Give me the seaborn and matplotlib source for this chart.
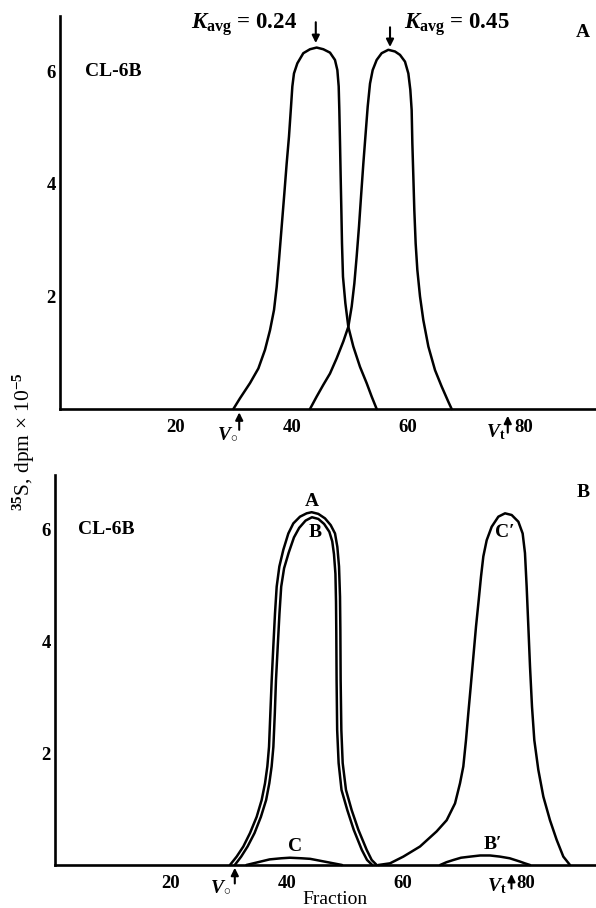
import matplotlib
matplotlib.use("Agg")
import matplotlib.pyplot as plt
from matplotlib.transforms import ScaledTranslation
import seaborn as sns
import pandas as pd

# ---------------- data ----------------
# Panel A: two peaks on CL-6B
peakA1_x = [29.89, 31.03, 32.76, 34.20, 35.34, 36.21, 36.90, 37.36, 37.76, 38.22, 38.68, 39.08, 39.48, 39.83,
            40.06, 40.34, 40.92, 41.95, 43.10, 44.25, 45.40, 46.55, 47.41, 47.82, 48.05, 48.16, 48.28, 48.39,
            48.51, 48.62, 48.79, 49.20, 49.71, 50.57, 51.72, 52.87, 53.74, 54.60]
peakA1_y = [0.0, 0.19, 0.46, 0.72, 1.05, 1.40, 1.76, 2.17, 2.65, 3.24, 3.83, 4.36, 4.84, 5.37,
            5.73, 5.96, 6.14, 6.32, 6.39, 6.42, 6.39, 6.33, 6.20, 6.02, 5.73, 5.31, 4.72, 4.13,
            3.53, 2.94, 2.35, 1.88, 1.46, 1.11, 0.75, 0.46, 0.22, 0.0]
peakA2_x = [43.10, 44.25, 45.40, 46.55, 47.70, 48.85, 49.71, 50.29, 50.75, 51.15, 51.55, 51.90, 52.30, 52.70,
            53.05, 53.45, 53.91, 54.60, 55.46, 56.61, 57.76, 58.62, 59.48, 60.06, 60.40, 60.63, 60.75, 60.92,
            61.09, 61.32, 61.61, 62.07, 62.64, 63.51, 64.66, 65.80, 66.95, 67.53]
peakA2_y = [0.0, 0.22, 0.43, 0.63, 0.90, 1.20, 1.46, 1.82, 2.23, 2.71, 3.24, 3.77, 4.36, 4.90,
            5.37, 5.78, 6.02, 6.20, 6.32, 6.38, 6.35, 6.29, 6.17, 5.96, 5.67, 5.31, 4.72, 4.13,
            3.53, 2.94, 2.47, 2.00, 1.58, 1.11, 0.69, 0.40, 0.13, 0.0]

# Panel B
curveA_x = [30.17, 31.32, 32.47, 33.62, 34.77, 35.63, 36.21, 36.61, 36.90, 37.13, 37.36, 37.64, 37.93, 38.22,
            38.68, 39.37, 40.23, 41.09, 42.24, 43.39, 44.25, 45.40, 46.55, 47.53, 48.28, 48.68, 48.97, 49.14,
            49.20, 49.25, 49.37, 49.60, 50.17, 51.15, 52.30, 53.74, 54.60, 55.46]
curveA_y = [0.0, 0.15, 0.33, 0.57, 0.86, 1.16, 1.46, 1.76, 2.11, 2.71, 3.30, 3.90, 4.49, 4.97,
            5.33, 5.63, 5.92, 6.10, 6.22, 6.28, 6.30, 6.27, 6.19, 6.07, 5.92, 5.68, 5.33, 4.79,
            4.20, 3.30, 2.41, 1.82, 1.34, 0.98, 0.63, 0.27, 0.09, 0.0]
curveB_x = [31.0, 32.1, 33.2, 34.4, 35.5, 36.4, 36.95, 37.35, 37.65, 37.9, 38.1, 38.4, 38.7, 39.0,
            39.5, 40.3, 41.2, 42.1, 43.2, 44.3, 45.4, 46.4, 47.3, 47.8, 48.1, 48.35, 48.45, 48.5,
            48.55, 48.65, 48.9, 49.4, 50.4, 51.5, 52.9, 53.8, 54.7]
curveB_y = [0.0, 0.15, 0.33, 0.57, 0.86, 1.16, 1.46, 1.76, 2.11, 2.71, 3.30, 3.90, 4.49, 4.97,
            5.30, 5.58, 5.85, 6.02, 6.15, 6.21, 6.18, 6.09, 5.95, 5.78, 5.55, 5.20, 4.70, 4.15,
            3.30, 2.41, 1.82, 1.34, 0.98, 0.63, 0.27, 0.09, 0.0]
curveC_x = [33.0, 35.0, 37.0, 39.0, 40.5, 42.5, 44.0, 46.0, 47.5, 49.5]
curveC_y = [0.0, 0.05, 0.10, 0.12, 0.13, 0.12, 0.11, 0.07, 0.04, 0.0]
curveCp_x = [55.75, 57.76, 60.06, 62.93, 65.80, 67.53, 68.97, 69.83, 70.40, 70.86, 71.26, 71.67, 72.13, 72.59,
             73.05, 73.45, 73.85, 74.43, 75.29, 76.44, 77.59, 78.74, 79.89, 80.63, 81.03, 81.32, 81.61, 81.90,
             82.24, 82.64, 83.33, 84.20, 85.34, 86.49, 87.64, 88.79]
curveCp_y = [0.0, 0.03, 0.15, 0.33, 0.60, 0.80, 1.10, 1.46, 1.76, 2.23, 2.71, 3.18, 3.72, 4.26,
             4.73, 5.15, 5.51, 5.80, 6.04, 6.22, 6.28, 6.25, 6.13, 5.92, 5.57, 4.97, 4.26, 3.54,
             2.83, 2.23, 1.70, 1.22, 0.80, 0.45, 0.15, 0.0]
curveBp_x = [66.4, 67.5, 68.7, 70.0, 71.6, 73.3, 75.0, 76.7, 78.4, 79.3, 80.2, 81.0, 81.9]
curveBp_y = [0.0, 0.05, 0.09, 0.13, 0.15, 0.17, 0.17, 0.15, 0.12, 0.09, 0.06, 0.03, 0.0]

x_ticks = [10, 20, 30, 40, 50, 60, 70, 80, 90]
x_ticklabels = ["", "20", "", "40", "", "60", "", "80", ""]
y_ticks = [1, 2, 3, 4, 5, 6]
y_ticklabels = ["", "2", "", "4", "", "6"]

# ---------------- style ----------------
sns.set_theme(style="white")
plt.rcParams["font.family"] = ["Liberation Serif", "DejaVu Serif"]
plt.rcParams["mathtext.fontset"] = "custom"
plt.rcParams["mathtext.rm"] = "Liberation Serif:bold"
plt.rcParams["mathtext.bf"] = "Liberation Serif:bold"
plt.rcParams["mathtext.it"] = "Liberation Serif:italic:bold"

W, H = 596, 908
fig = plt.figure(figsize=(W / 100, H / 100), dpi=100)
fig.patch.set_facecolor("white")
axA = fig.add_axes([60 / W, 1 - 409 / H, 536 / W, 393 / H])
axB = fig.add_axes([55 / W, 1 - 865 / H, 541 / W, 390 / H])

line_kw = dict(color="black", linewidth=1.8, estimator=None, legend=False)


def draw(ax, xs, ys):
    df = pd.DataFrame({"Fraction": xs, "val": ys})
    sns.lineplot(data=df, x="Fraction", y="val", ax=ax, sort=False, **line_kw)


draw(axA, peakA1_x, peakA1_y)
draw(axA, peakA2_x, peakA2_y)
for xs, ys in [(curveA_x, curveA_y), (curveB_x, curveB_y), (curveC_x, curveC_y),
               (curveCp_x, curveCp_y), (curveBp_x, curveBp_y)]:
    draw(axB, xs, ys)

for ax, xmax, ymax in [(axA, 536 / 5.8, 393 / 56.3), (axB, 541 / 5.8, 390 / 56.0)]:
    for ln in ax.get_lines():
        ln.set_clip_on(False)
        ln.set_solid_joinstyle("round")
        ln.set_solid_capstyle("round")
    ax.set_xlim(0, xmax)
    ax.set_ylim(0, ymax)
    ax.set_facecolor("white")
    for s in ["top", "right"]:
        ax.spines[s].set_visible(False)
    for s in ["left", "bottom"]:
        ax.spines[s].set_color("black")
        ax.spines[s].set_linewidth(1.9)
    ax.set_xticks(x_ticks)
    ax.set_xticklabels(x_ticklabels)
    ax.set_yticks(y_ticks)
    ax.set_yticklabels(y_ticklabels)
    ax.tick_params(axis="x", direction="in", length=8, width=1.5, color="black", pad=7,
                   labelsize=13.5, labelcolor="black")
    ax.tick_params(axis="y", direction="in", length=10, width=1.5, color="black", pad=3,
                   labelsize=13.5, labelcolor="black")
    for lab in ax.get_xticklabels() + ax.get_yticklabels():
        lab.set_fontweight("bold")
    ax.set_xlabel("")
    ax.set_ylabel("")

# in panel B the "80" label sits a little right of its tick
for lab in axB.get_xticklabels():
    if lab.get_text() == "80":
        lab.set_transform(lab.get_transform() + ScaledTranslation(7 / 100, 0, fig.dpi_scale_trans))

txt = dict(color="black", fontsize=14, fontweight="bold", clip_on=False)
arrow = dict(arrowstyle="-|>", color="black", lw=1.5, mutation_scale=11, shrinkA=0, shrinkB=0)

# Panel A annotations
axA.text(4.3, 6.0, "CL-6B", ha="left", va="center", **txt)
axA.text(90.2, 6.68, "A", ha="center", va="center", **txt)
kav = dict(txt, fontsize=16.5)
axA.text(22.6, 6.82, r"$K_{\mathrm{avg}}$ = 0.24", ha="left", va="center", **kav)
axA.text(59.3, 6.82, r"$K_{\mathrm{avg}}$ = 0.45", ha="left", va="center", **kav)
axA.annotate("", xy=(44.1, 6.5), xytext=(44.1, 6.87), arrowprops=arrow, annotation_clip=False)
axA.annotate("", xy=(56.9, 6.43), xytext=(56.9, 6.78), arrowprops=arrow, annotation_clip=False)
axA.annotate("", xy=(30.9, -0.06), xytext=(30.9, -0.37), arrowprops=arrow, annotation_clip=False)
axA.annotate("", xy=(77.2, -0.12), xytext=(77.2, -0.42), arrowprops=arrow, annotation_clip=False)
axA.text(28.8, -0.46, r"$V_{\circ}$", ha="center", va="center", **txt)
axA.text(75.1, -0.41, r"$V_{\mathrm{t}}$", ha="center", va="center", **txt)

# Panel B annotations
axB.text(4.0, 6.0, "CL-6B", ha="left", va="center", **txt)
axB.text(91.0, 6.66, "B", ha="center", va="center", **txt)
axB.text(44.3, 6.49, "A", ha="center", va="center", **txt)
axB.text(44.8, 5.93, "B", ha="center", va="center", **txt)
axB.text(41.4, 0.33, "C", ha="center", va="center", **txt)
axB.text(77.6, 5.93, "C\u2032", ha="center", va="center", **txt)
axB.text(75.5, 0.36, "B\u2032", ha="center", va="center", **txt)
axB.annotate("", xy=(31.0, -0.05), xytext=(31.0, -0.33), arrowprops=arrow, annotation_clip=False)
axB.annotate("", xy=(78.7, -0.16), xytext=(78.7, -0.42), arrowprops=arrow, annotation_clip=False)
axB.text(28.6, -0.41, r"$V_{\circ}$", ha="center", va="center", **txt)
axB.text(76.2, -0.38, r"$V_{\mathrm{t}}$", ha="center", va="center", **txt)

fig.text(335 / W, 1 - 899 / H, "Fraction", ha="center", va="center", fontsize=14, color="black")
fig.text(24 / W, 1 - 442 / H, "$^{35}$S, dpm \u00d7 10$^{-5}$",
         rotation=90, ha="center", va="center", fontsize=15.5, color="black")

fig.savefig("out.png", dpi=100, facecolor="white")
